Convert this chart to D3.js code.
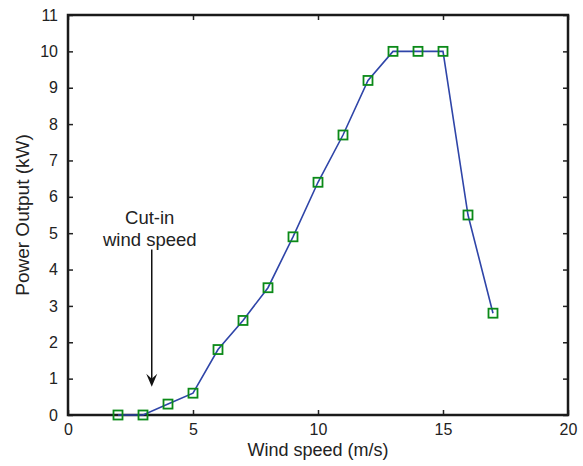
<!DOCTYPE html>
<html><head><meta charset="utf-8">
<script src="https://cdn.jsdelivr.net/npm/d3@7"></script>
<style>body{margin:0;background:#fff}svg{display:block}text{font-family:"Liberation Sans",Arial,sans-serif;fill:#222}</style>
</head><body><svg id="c" width="583" height="466"></svg>
<script>
const windSpeed = [2,3,4,5,6,7,8,9,10,11,12,13,14,15,16,17];
const power = [0,0,0.3,0.6,1.8,2.6,3.5,4.9,6.4,7.7,9.2,10,10,10,5.5,2.8];
const xTicks = [0,5,10,15,20];
const yTicks = [0,1,2,3,4,5,6,7,8,9,10,11];
const annotation = ["Cut-in","wind speed"];
const arrowX = 3.35, arrowFrom = 4.55, arrowTo = 0.75;

const svg = d3.select("#c");
const L=68,R=568,T=15,B=415;
const x = d3.scaleLinear().domain([0,20]).range([L,R]);
const y = d3.scaleLinear().domain([0,11]).range([B,T]);

const g = svg.append("g");
const tl=5;
g.append("g").attr("transform",`translate(0,${B})`).call(d3.axisBottom(x).tickValues(xTicks).tickSize(-tl).tickPadding(9).tickFormat(d3.format("d")));
g.append("g").attr("transform",`translate(0,${T})`).call(d3.axisTop(x).tickValues(xTicks).tickSize(-tl).tickFormat(""));
g.append("g").attr("transform",`translate(${L},0)`).call(d3.axisLeft(y).tickValues(yTicks).tickSize(-tl).tickPadding(10).tickFormat(d3.format("d")));
g.append("g").attr("transform",`translate(${R},0)`).call(d3.axisRight(y).tickValues(yTicks).tickSize(-tl).tickFormat(""));
g.selectAll(".domain").remove();
g.selectAll(".tick line").attr("stroke","#222").attr("stroke-width",1.5);
g.selectAll(".tick text").style("font-size","16px").attr("fill","#222");
svg.append("rect").attr("x",L).attr("y",T).attr("width",R-L).attr("height",B-T).attr("fill","none").attr("stroke","#1a1a1a").attr("stroke-width",2.5);

svg.append("path").datum(windSpeed.map((d,i)=>[d,power[i]]))
 .attr("d",d3.line().x(d=>x(d[0])).y(d=>y(d[1])))
 .attr("fill","none").attr("stroke","#2f45a8").attr("stroke-width",1.6);
svg.selectAll("rect.m").data(windSpeed).enter().append("rect").attr("class","m")
 .attr("x",(d)=>x(d)-4.5).attr("y",(d,i)=>y(power[i])-4.5).attr("width",9).attr("height",9)
 .attr("fill","none").attr("stroke","#0b8a18").attr("stroke-width",1.8);

const ax=x(arrowX), ay=y(arrowTo);
svg.append("line").attr("x1",ax).attr("x2",ax).attr("y1",y(arrowFrom)).attr("y2",ay-8)
 .attr("stroke","#111").attr("stroke-width",1.5);
svg.append("path").attr("d",`M${ax-5.5},${ay-14} L${ax},${ay-1} L${ax+5.5},${ay-14} L${ax},${ay-9} Z`).attr("fill","#111");
annotation.forEach((t,i)=>svg.append("text").attr("x",ax-2).attr("y",224+i*22).attr("text-anchor","middle").style("font-size","18.5px").text(t));

svg.append("text").attr("x",(L+R)/2).attr("y",456).attr("text-anchor","middle").style("font-size","18px").text("Wind speed (m/s)");
svg.append("text").attr("transform",`translate(29,${(T+B)/2}) rotate(-90)`).attr("text-anchor","middle").style("font-size","19px").text("Power Output (kW)");
</script></body></html>
